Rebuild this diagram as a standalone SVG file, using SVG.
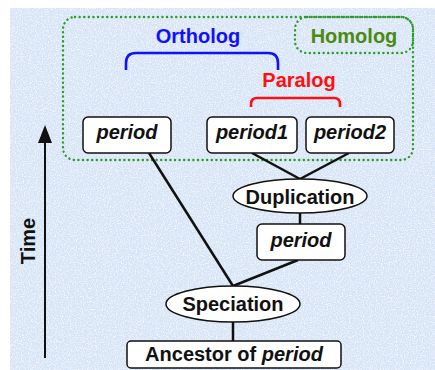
<svg xmlns="http://www.w3.org/2000/svg" width="435" height="370" viewBox="0 0 435 370">
<style>
text{font-family:"Liberation Sans",Arial,sans-serif;font-weight:bold;font-size:20px;fill:#111}
.box{fill:#fff;stroke:#111;stroke-width:1.5}
.ell{fill:#fff;stroke:#111;stroke-width:1.5}
.edge{stroke:#111;stroke-width:2.5;fill:none}
.dot{fill:none;stroke:#2e9a2e;stroke-width:2.4;stroke-dasharray:0.1 4.5;stroke-linecap:round}
.it{font-style:italic}
.mid{text-anchor:middle}
</style>
<defs>
<filter id="noise" x="0" y="0" width="100%" height="100%">
<feTurbulence type="fractalNoise" baseFrequency="0.85" numOctaves="2" seed="4"/>
<feColorMatrix type="matrix" values="0 0 0 0 1 0 0 0 0 1 0 0 0 0 1 3 0 0 0 -1.3"/>
</filter>
</defs>
<rect x="0" y="0" width="435" height="370" fill="#fff"/>
<rect x="10" y="8" width="425" height="362" fill="#d6e4f6"/>
<rect x="10" y="8" width="425" height="362" filter="url(#noise)" opacity="0.75"/>

<g id="homolog-region">
<rect class="dot" x="63" y="17" width="350" height="143" rx="12"/>
<rect class="dot" x="295" y="17" width="118" height="36" rx="12"/>
<text class="mid" x="354" y="43" style="fill:#4a8a12">Homolog</text>
</g>

<g id="ortholog">
<path d="M126 70 V63 Q126 53 136 53 H268 Q278 53 278 63 V70" fill="none" stroke="#1010ff" stroke-width="2.6"/>
<text class="mid" x="198" y="43" style="fill:#1010ff">Ortholog</text>
</g>

<g id="paralog">
<path d="M251 107 V104 Q251 98 257 98 H334 Q340 98 340 104 V107" fill="none" stroke="#ff1010" stroke-width="2.6"/>
<text class="mid" x="299" y="87" style="fill:#ff1010">Paralog</text>
</g>

<g id="time">
<line x1="45" y1="141" x2="45" y2="358" stroke="#111" stroke-width="2"/>
<polygon points="45,125 38,143 52,143" fill="#111"/>
<text class="mid" transform="translate(35,241) rotate(-90)">Time</text>
</g>

<g id="connectors">
<line class="edge" x1="149" y1="153" x2="233" y2="286"/>
<line class="edge" x1="252" y1="153" x2="300" y2="179"/>
<line class="edge" x1="349" y1="153" x2="300" y2="179"/>
<line class="edge" x1="300" y1="213" x2="300" y2="224"/>
<line class="edge" x1="298" y1="260" x2="233" y2="286"/>
<line class="edge" x1="233" y1="322" x2="233" y2="341"/>
</g>

<g id="period-a">
<rect class="box" x="83" y="117" width="88" height="36" rx="5"/>
<text class="mid it" x="127" y="139">period</text>
</g>
<g id="period1">
<rect class="box" x="207" y="117" width="90" height="36" rx="5"/>
<text class="mid it" x="252" y="139">period1</text>
</g>
<g id="period2">
<rect class="box" x="306" y="117" width="88" height="36" rx="5"/>
<text class="mid it" x="350" y="139">period2</text>
</g>
<g id="duplication">
<ellipse class="ell" cx="300" cy="196" rx="67" ry="17"/>
<text class="mid" x="300" y="204">Duplication</text>
</g>
<g id="period-b">
<rect class="box" x="257" y="224" width="88" height="36" rx="5"/>
<text class="mid it" x="301" y="247">period</text>
</g>
<g id="speciation">
<ellipse class="ell" cx="233" cy="304" rx="67" ry="18"/>
<text class="mid" x="233" y="311">Speciation</text>
</g>
<g id="ancestor">
<rect class="box" x="127" y="341" width="214" height="27" rx="4"/>
<text class="mid" x="234" y="361">Ancestor of <tspan class="it">period</tspan></text>
</g>
</svg>
